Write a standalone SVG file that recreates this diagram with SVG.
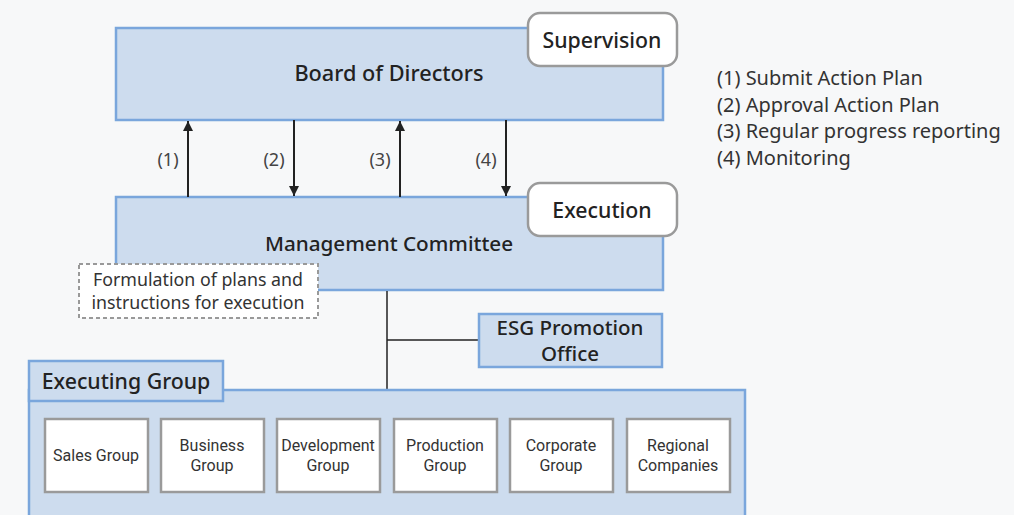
<svg xmlns="http://www.w3.org/2000/svg" width="1014" height="515" viewBox="0 0 1014 515">
<defs>
<marker id="ah" viewBox="0 0 10 10" refX="10" refY="5" markerWidth="10" markerHeight="10" markerUnits="userSpaceOnUse" orient="auto"><path d="M0,0 L10,5 L0,10 z" fill="#222"/></marker>
<style>
.blue{fill:#cddcee;stroke:#7aa6dc;stroke-width:2.5}
.tag{fill:#fff;stroke:#9a9a9a;stroke-width:2.5}
.wb{fill:#fff;stroke:#9a9a9a;stroke-width:2.5}
.t{font-family:"Noto Sans","Open Sans",sans-serif;fill:#222;text-anchor:middle}
.h{font-size:21px;font-weight:500}
.s{font-size:16px;font-family:Roboto,"Noto Sans",sans-serif;fill:#333}
.n{font-size:18px;fill:#444}
.lg{font-family:"Noto Sans","Open Sans",sans-serif;font-size:20px;fill:#333}
.ln{stroke:#222;stroke-width:2;fill:none}
</style>
</defs>
<rect width="1014" height="515" fill="#f7f8f9"/>
<g id="board">
<rect class="blue" x="116" y="28" width="547" height="92"/>
<text class="t h" x="389" y="81" style="font-size:21.7px">Board of Directors</text>
</g>
<g id="supervision">
<rect class="tag" x="528" y="13" width="149" height="53" rx="12"/>
<text class="t h" x="602" y="48" style="font-size:21.3px">Supervision</text>
</g>
<g id="management">
<rect class="blue" x="116" y="197" width="547" height="93"/>
<text class="t h" x="389" y="251" style="font-size:20.7px">Management Committee</text>
</g>
<g id="execution">
<rect class="tag" x="528" y="183" width="149" height="53" rx="12"/>
<text class="t h" x="602" y="218" style="font-size:21.3px">Execution</text>
</g>
<g id="formulation">
<rect x="79" y="264" width="239" height="54" fill="#fff" stroke="#999" stroke-width="2" stroke-dasharray="4,3"/>
<text class="t" style="font-size:17.8px;fill:#333" x="198" y="286">Formulation of plans and</text>
<text class="t" style="font-size:17.8px;fill:#333" x="198" y="309">instructions for execution</text>
</g>
<g id="connectors">
<line class="ln" x1="188" y1="197" x2="188" y2="121" marker-end="url(#ah)"/>
<line class="ln" x1="294" y1="120" x2="294" y2="196" marker-end="url(#ah)"/>
<line class="ln" x1="400" y1="197" x2="400" y2="121" marker-end="url(#ah)"/>
<line class="ln" x1="506" y1="120" x2="506" y2="196" marker-end="url(#ah)"/>
<line x1="387" y1="291" x2="387" y2="389" stroke="#222" stroke-width="1.5"/>
<line x1="387" y1="340" x2="478" y2="340" stroke="#222" stroke-width="1.5"/>
</g>
<g id="labels">
<text class="t n" x="168" y="166">(1)</text>
<text class="t n" x="274" y="166">(2)</text>
<text class="t n" x="380" y="166">(3)</text>
<text class="t n" x="486" y="166">(4)</text>
</g>
<g id="esg">
<rect class="blue" x="479" y="314" width="183" height="53"/>
<text class="t h" x="570" y="335" style="font-size:20.5px">ESG Promotion</text>
<text class="t h" x="570" y="361" style="font-size:20.5px">Office</text>
</g>
<g id="executing-group">
<rect class="blue" x="29" y="390" width="716" height="135"/>
<rect class="blue" x="29" y="361" width="194" height="40"/>
<text class="t h" x="126" y="389" style="font-size:21.3px">Executing Group</text>
</g>
<g id="sales"><rect class="wb" x="45" y="419" width="103" height="73"/><text class="t s" x="96" y="461">Sales Group</text></g>
<g id="business"><rect class="wb" x="161" y="419" width="103" height="73"/><text class="t s" x="212" y="451">Business</text><text class="t s" x="212" y="471">Group</text></g>
<g id="development"><rect class="wb" x="277" y="419" width="103" height="73"/><text class="t s" x="328" y="451">Development</text><text class="t s" x="328" y="471">Group</text></g>
<g id="production"><rect class="wb" x="394" y="419" width="103" height="73"/><text class="t s" x="445" y="451">Production</text><text class="t s" x="445" y="471">Group</text></g>
<g id="corporate"><rect class="wb" x="510" y="419" width="103" height="73"/><text class="t s" x="561" y="451">Corporate</text><text class="t s" x="561" y="471">Group</text></g>
<g id="regional"><rect class="wb" x="627" y="419" width="103" height="73"/><text class="t s" x="678" y="451">Regional</text><text class="t s" x="678" y="471">Companies</text></g>
<g id="legend">
<text class="lg" x="717" y="85">(1) Submit Action Plan</text>
<text class="lg" x="717" y="112">(2) Approval Action Plan</text>
<text class="lg" x="717" y="138">(3) Regular progress reporting</text>
<text class="lg" x="717" y="165">(4) Monitoring</text>
</g>
</svg>
